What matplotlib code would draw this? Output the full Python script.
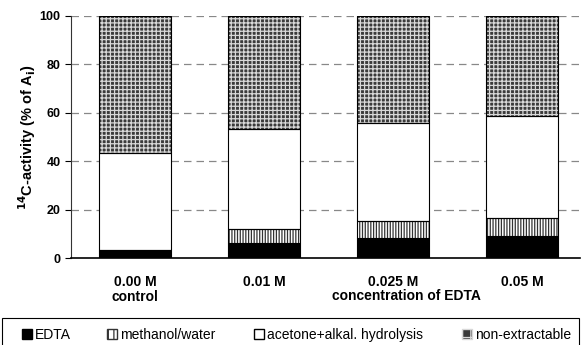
import matplotlib.pyplot as plt
from matplotlib.patches import Patch, Rectangle

plt.rcParams['font.family'] = ['Liberation Sans', 'DejaVu Sans']
plt.rcParams['font.weight'] = 'bold'
plt.rcParams['hatch.linewidth'] = 0.9

conc = ['0.00 M\ncontrol', '0.01 M', '0.025 M', '0.05 M']
edta = [2.9, 6.1, 8.4, 9.0]
methanol = [0.5, 6.0, 7.0, 7.4]
acetone = [40.1, 41.1, 40.5, 42.3]
nonext = [56.5, 46.8, 44.1, 41.3]

x = list(range(len(conc)))
w = 0.56

fig = plt.figure(figsize=(5.81, 3.45), dpi=100)
ax = fig.add_axes([0.122, 0.252, 0.876, 0.702])

for y in [20, 40, 60, 80, 100]:
    ax.axhline(y, color='#888888', lw=0.9, ls=(0, (6, 4)), zorder=0)

b1 = edta
b2 = [a + b for a, b in zip(edta, methanol)]
b3 = [a + b for a, b in zip(b2, acetone)]

# fills with hatches (hatch colour follows edgecolor, so edges drawn afterwards)
ax.bar(x, edta, w, color='black', edgecolor='black', lw=0.8, zorder=2)
ax.bar(x, methanol, w, bottom=b1, color='white', edgecolor='#333333',
       hatch='||||||', lw=0, zorder=2)
ax.bar(x, acetone, w, bottom=b2, color='white', lw=0, zorder=2)
ax.bar(x, nonext, w, bottom=b3, color='#3a3a3a', edgecolor='#d8d8d8',
       hatch='++++', lw=0, zorder=2)
for vals, bot in [(methanol, b1), (acetone, b2), (nonext, b3)]:
    ax.bar(x, vals, w, bottom=bot, fill=False, edgecolor='black', lw=0.8, zorder=3)

ax.set_xlim(-0.5, 3.45)
ax.set_ylim(0, 100)
ax.set_yticks([0, 20, 40, 60, 80, 100])
ax.tick_params(axis='y', labelsize=9, length=4, width=0.8)
ax.tick_params(axis='x', labelsize=10, length=0, pad=12)
ax.set_xticks(x)
ax.set_xticklabels(conc, linespacing=1.15)
ax.set_ylabel(r'$^{\mathbf{14}}$C-activity (% of A$_{\mathbf{i}}$)', fontsize=10.5,
              fontweight='bold', labelpad=1)
for s in ['top', 'right']:
    ax.spines[s].set_visible(False)
ax.spines['left'].set_color('#333333')
ax.spines['bottom'].set_linewidth(1.2)

fig.text(332 / 581, 0.142, 'concentration of EDTA', ha='left', va='center', fontsize=10)

# legend frame and the four entries at their own places
fig.add_artist(Rectangle((0.004, -0.05), 0.992, 0.128, transform=fig.transFigure,
                         fill=False, edgecolor='black', lw=0.8))
handles = [
    Patch(facecolor='black', edgecolor='black', label='EDTA'),
    Patch(facecolor='white', edgecolor='#333333', hatch='|||', label='methanol/water'),
    Patch(facecolor='white', edgecolor='black', label='acetone+alkal. hydrolysis'),
    Patch(facecolor='#3a3a3a', edgecolor='#d8d8d8', hatch='++', label='non-extractable'),
]
leg_x = [22, 107, 254, 462]
for h, lx in zip(handles, leg_x):
    lg = fig.legend(handles=[h], loc='center left', bbox_to_anchor=(lx / 581, 0.029),
                    frameon=False, fontsize=10, handlelength=0.75, handleheight=0.75,
                    handletextpad=0.2, borderaxespad=0, borderpad=0)
    for t in lg.get_texts():
        t.set_fontweight('normal')

fig.savefig('out.png', dpi=100)
